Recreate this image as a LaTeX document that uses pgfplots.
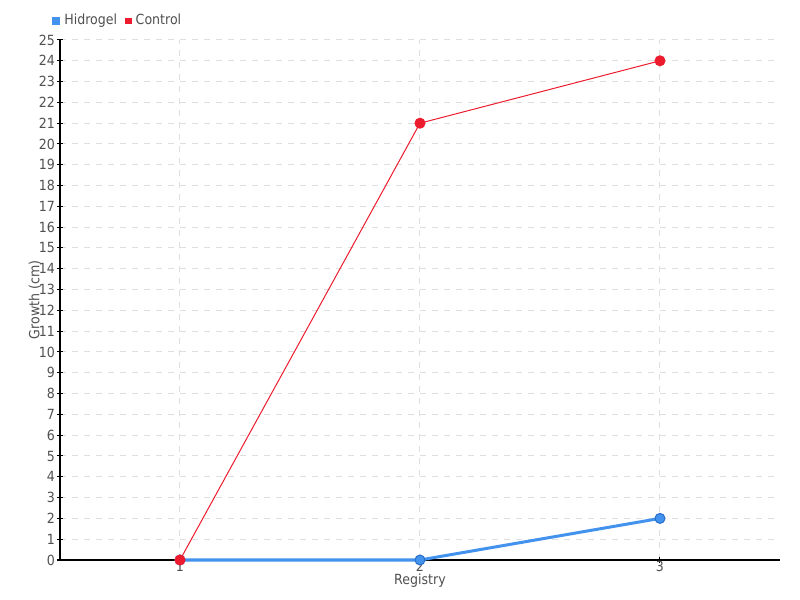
\documentclass[border=0pt]{standalone}
\usepackage{fontspec}
\setmainfont{DejaVu Sans Condensed}
\usepackage{pgfplots}
\pgfplotsset{compat=1.18}
\definecolor{hblue}{RGB}{66,146,238}
\definecolor{hblueedge}{RGB}{40,110,200}
\definecolor{cred}{RGB}{236,28,46}
\definecolor{txtgray}{RGB}{80,80,80}
\begin{document}
\begin{tikzpicture}
\begin{axis}[
    scale only axis,
    width=360pt, height=260pt,
    xmin=0.5, xmax=3.5,
    ymin=0, ymax=25,
    xtick={1,2,3},
    ytick={0,1,...,25},
    axis x line=bottom,
    axis y line=left,
    axis line style={-, black, line width=0.6pt},
    tick style={black, line width=0.5pt},
    major tick length=3pt,
    xtick pos=bottom, ytick pos=left,
    tick align=center,
    grid=major,
    grid style={dashed, gray!25, line width=0.5pt},
    tick label style={font=\fontsize{7}{8}\selectfont, text=txtgray},
    /pgf/number format/assume math mode=true,
    xticklabel style={yshift=4.5pt},
    yticklabel style={xshift=2.5pt},
    xlabel={Registry},
    ylabel={Growth (cm)},
    label style={font=\fontsize{7}{8}\selectfont, text=txtgray},
    xlabel style={at={(axis description cs:0.5,0)}, anchor=center, yshift=-10.5pt},
    ylabel style={at={(axis description cs:-0.0347,0.5)}, anchor=center},
    legend style={at={(rel axis cs:-0.012,1.0365)}, anchor=west, draw=none, fill=none,
      legend columns=-1, font=\fontsize{7}{8}\selectfont, text=txtgray,
      /tikz/every even column/.append style={column sep=2pt},
      inner sep=0pt},
    legend image code/.code={\fill[#1] (0pt,-1.4pt) rectangle (2.8pt,1.4pt);},
    clip=false,
]
\addplot[hblue, line width=1.5pt, mark=*, mark size=2.5pt,
  mark options={fill=hblue, draw=hblueedge, line width=0.5pt}]
  coordinates {(1,0) (2,0) (3,2)};
\addlegendentry{Hidrogel}
\addplot[cred, line width=0.5pt, mark=*, mark size=2.5pt,
  mark options={fill=cred, draw=cred}]
  coordinates {(1,0) (2,21) (3,24)};
\addlegendentry{Control}
\useasboundingbox (rel axis cs:-0.0833,-0.0769) rectangle (rel axis cs:1.0278,1.0769);
\end{axis}
\end{tikzpicture}
\end{document}
